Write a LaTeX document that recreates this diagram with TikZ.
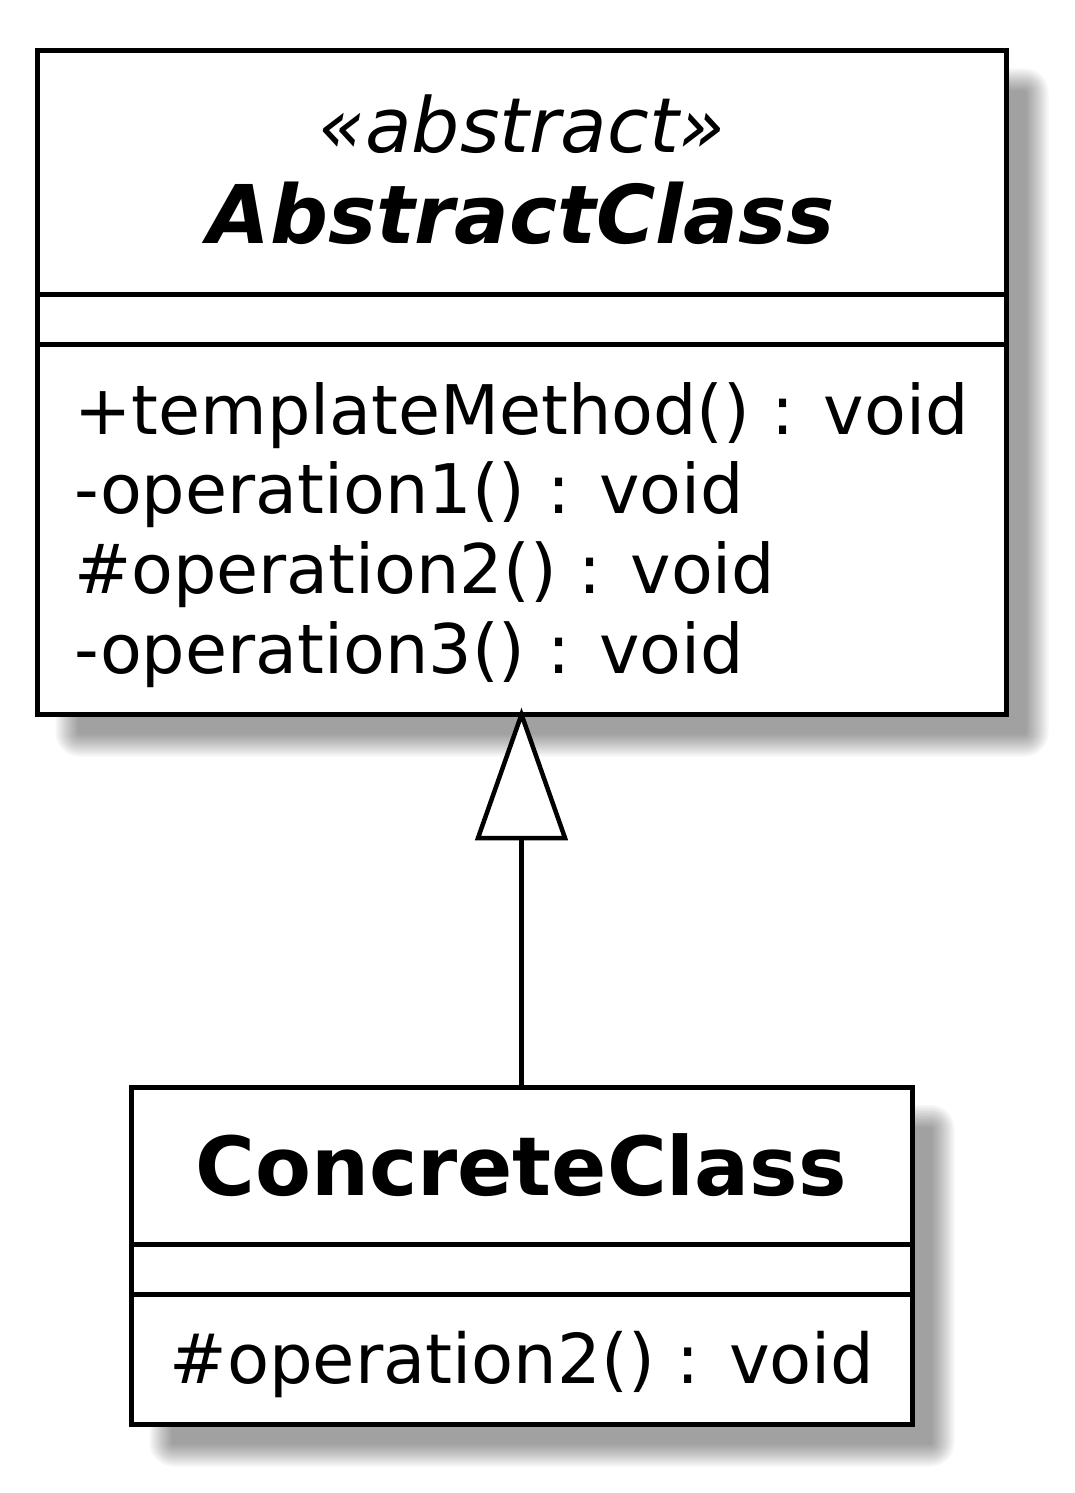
\documentclass[tikz,border=0pt]{standalone}
\usepackage{fontspec}
\setmainfont{DejaVu Sans}
\tikzset{
  px/.style={x=1pt,y=-1pt},
  umlbox/.style={draw=black,line width=5pt,fill=white,inner sep=0pt},
  sepline/.style={line width=5pt,draw=black},
  member/.style={anchor=base west,inner sep=0pt,font=\fontsize{68.4}{80}\selectfont},
  title/.style={anchor=base,inner sep=0pt},
  conn/.style={line width=5pt,draw=black},
  inhtip/.style={line width=4.5pt,draw=black,fill=white,line join=miter},
  shadowlayer/.style={fill=black,fill opacity=0.036}
}
% blurred drop shadow: #1,#2 top-left, #3,#4 bottom-right of the box
\newcommand{\umlshadow}[4]{%
  \begin{scope}
    \clip (#1+18,#2+18) rectangle (#3+80,#4+80);
    \foreach \i in {0,...,11}{
      \pgfmathsetmacro{\ins}{-12+2*\i}
      \pgfmathsetmacro{\rc}{max(24-2*\i,0.5)}
      \fill[shadowlayer,rounded corners=\rc pt]
        (#1+30+\ins,#2+30+\ins) rectangle (#3+30-\ins,#4+30-\ins);
    }
  \end{scope}}
\begin{document}
\begin{tikzpicture}[px]
\useasboundingbox (0,0) rectangle (1075,1493);
\fill[white] (0,0) rectangle (1075,1493);

% shadows
\umlshadow{37.5}{50.5}{1006.5}{714.5}
\umlshadow{131.5}{1087}{912.5}{1424.5}

% AbstractClass
\node[umlbox,minimum width=969pt,minimum height=664pt] (abs) at (522,382.5) {};
\draw[sepline] (40,294.5) -- (1004,294.5);
\draw[sepline] (40,344.5) -- (1004,344.5);
\node[title,font=\fontsize{76}{84}\itshape] (absst) at (522,152) {«abstract»};
\node[title,font=\fontsize{81}{90}\bfseries\itshape] (absname) at (521,243) {AbstractClass};
\node[member] (m1) at (74,434) {+templateMethod() : void};
\node[member] (m2) at (74,513.5) {-operation1() : void};
\node[member] (m3) at (74,593) {\#operation2() : void};
\node[member] (m4) at (74,673) {-operation3() : void};

% ConcreteClass
\node[umlbox,minimum width=781pt,minimum height=337.5pt] (con) at (522,1255.75) {};
\draw[sepline] (134,1244.5) -- (910,1244.5);
\draw[sepline] (134,1294.5) -- (910,1294.5);
\node[title,font=\fontsize{81.5}{90}\bfseries] (conname) at (521,1195) {ConcreteClass};
\node[title,font=\fontsize{68.8}{80}\selectfont] (cm1) at (522,1383) {\#operation2() : void};

% generalization
\coordinate (apex) at (521.5,714.5);
\coordinate (tb) at (521.5,838);
\draw[inhtip] (apex) -- (478,838) -- (565,838) -- cycle;
\draw[conn] (tb) -- (con.north -| tb);
\end{tikzpicture}
\end{document}
